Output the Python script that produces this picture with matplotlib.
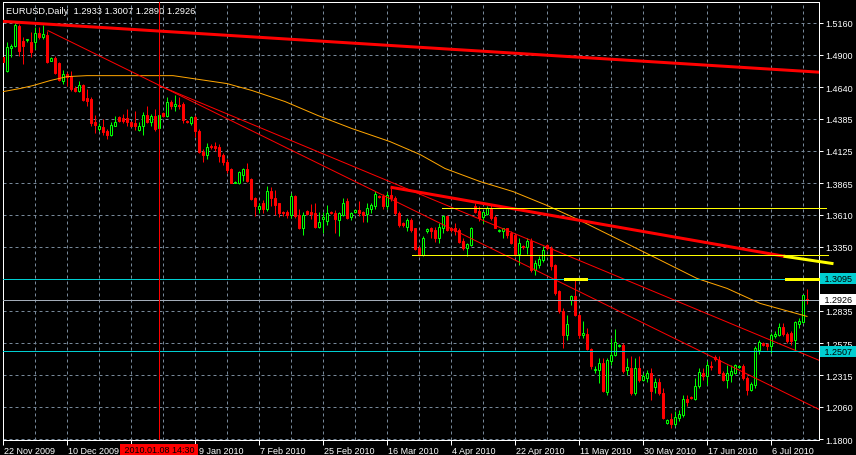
import matplotlib
matplotlib.use('Agg')
import matplotlib.pyplot as plt
import matplotlib.transforms as mtransforms
from matplotlib.patches import Rectangle

plt.rcParams['font.family'] = ['Liberation Sans', 'DejaVu Sans']

title = 'EURUSD,Daily  1.2933 1.3007 1.2890 1.2926'

# daily bars, oldest first (index = bar number on the time axis)
opens = [1.4886, 1.4773, 1.4958, 1.4974, 1.5135, 1.5014, 1.5020, 1.5006, 1.5006, 1.5079,
         1.5047, 1.5063, 1.4853, 1.4877, 1.4837, 1.4692, 1.4748, 1.4732, 1.4636, 1.4612,
         1.4660, 1.4555, 1.4547, 1.4354, 1.4305, 1.4321, 1.4289, 1.4257, 1.4329, 1.4402,
         1.4394, 1.4394, 1.4362, 1.4346, 1.4297, 1.4329, 1.4418, 1.4362, 1.4410, 1.4313,
         1.4434, 1.4410, 1.4523, 1.4491, 1.4499, 1.4507, 1.4370, 1.4346, 1.4402, 1.4289,
         1.4120, 1.4088, 1.4168, 1.4168, 1.4160, 1.4088, 1.4039, 1.3975, 1.3870, 1.3862,
         1.3934, 1.3975, 1.3902, 1.3741, 1.3660, 1.3701, 1.3660, 1.3805, 1.3741, 1.3701,
         1.3636, 1.3636, 1.3604, 1.3765, 1.3604, 1.3499, 1.3644, 1.3636, 1.3620, 1.3515,
         1.3572, 1.3556, 1.3636, 1.3628, 1.3564, 1.3604, 1.3717, 1.3588, 1.3636, 1.3652,
         1.3636, 1.3612, 1.3660, 1.3677, 1.3765, 1.3765, 1.3677, 1.3773, 1.3741, 1.3620,
         1.3540, 1.3515, 1.3564, 1.3499, 1.3338, 1.3282, 1.3475, 1.3499, 1.3483, 1.3419,
         1.3499, 1.3596, 1.3507, 1.3499, 1.3483, 1.3402, 1.3338, 1.3362, 1.3677, 1.3644,
         1.3588, 1.3612, 1.3668, 1.3588, 1.3475, 1.3475, 1.3499, 1.3459, 1.3443, 1.3290,
         1.3354, 1.3346, 1.3402, 1.3161, 1.3201, 1.3241, 1.3362, 1.3338, 1.3201, 1.2991,
         1.2830, 1.2637, 1.2919, 1.2951, 1.2798, 1.2637, 1.2645, 1.2524, 1.2355, 1.2355,
         1.2411, 1.2177, 1.2427, 1.2475, 1.2548, 1.2556, 1.2355, 1.2371, 1.2169, 1.2371,
         1.2274, 1.2290, 1.2331, 1.2218, 1.2258, 1.2169, 1.1928, 1.1960, 1.1920, 1.1968,
         1.1992, 1.2121, 1.2137, 1.2121, 1.2226, 1.2331, 1.2306, 1.2387, 1.2459, 1.2435,
         1.2331, 1.2274, 1.2314, 1.2331, 1.2379, 1.2387, 1.2290, 1.2193, 1.2234, 1.2516,
         1.2572, 1.2564, 1.2548, 1.2629, 1.2637, 1.2701, 1.2645, 1.2653, 1.2597, 1.2725,
         1.2742, 1.2933]
highs = [1.4894, 1.5006, 1.4990, 1.5160, 1.5152, 1.5047, 1.5031, 1.5087, 1.5127, 1.5127,
         1.5143, 1.5095, 1.4880, 1.4894, 1.4845, 1.4781, 1.4765, 1.4773, 1.4652, 1.4692,
         1.4668, 1.4628, 1.4563, 1.4418, 1.4346, 1.4386, 1.4305, 1.4362, 1.4410, 1.4410,
         1.4426, 1.4466, 1.4370, 1.4450, 1.4362, 1.4442, 1.4491, 1.4426, 1.4466, 1.4434,
         1.4442, 1.4563, 1.4539, 1.4579, 1.4563, 1.4523, 1.4378, 1.4410, 1.4418, 1.4305,
         1.4144, 1.4192, 1.4184, 1.4200, 1.4184, 1.4104, 1.4063, 1.3983, 1.3880, 1.3959,
         1.3991, 1.4031, 1.3910, 1.3757, 1.3701, 1.3725, 1.3838, 1.3830, 1.3813, 1.3705,
         1.3640, 1.3652, 1.3789, 1.3773, 1.3660, 1.3636, 1.3648, 1.3693, 1.3701, 1.3636,
         1.3636, 1.3685, 1.3644, 1.3652, 1.3636, 1.3741, 1.3741, 1.3636, 1.3660, 1.3717,
         1.3644, 1.3701, 1.3701, 1.3805, 1.3773, 1.3781, 1.3797, 1.3822, 1.3765, 1.3644,
         1.3548, 1.3580, 1.3580, 1.3507, 1.3354, 1.3435, 1.3507, 1.3515, 1.3515, 1.3540,
         1.3604, 1.3604, 1.3515, 1.3540, 1.3499, 1.3419, 1.3378, 1.3515, 1.3701, 1.3677,
         1.3644, 1.3677, 1.3685, 1.3604, 1.3491, 1.3507, 1.3507, 1.3475, 1.3451, 1.3419,
         1.3362, 1.3419, 1.3419, 1.3241, 1.3274, 1.3354, 1.3370, 1.3354, 1.3209, 1.2999,
         1.2855, 1.2798, 1.2959, 1.3080, 1.2814, 1.2750, 1.2693, 1.2532, 1.2387, 1.2451,
         1.2451, 1.2451, 1.2613, 1.2685, 1.2564, 1.2572, 1.2451, 1.2467, 1.2451, 1.2467,
         1.2331, 1.2355, 1.2371, 1.2290, 1.2290, 1.2210, 1.1960, 1.2008, 1.2024, 1.2032,
         1.2153, 1.2153, 1.2145, 1.2290, 1.2371, 1.2371, 1.2427, 1.2427, 1.2475, 1.2467,
         1.2347, 1.2395, 1.2395, 1.2403, 1.2395, 1.2403, 1.2306, 1.2258, 1.2548, 1.2597,
         1.2580, 1.2572, 1.2653, 1.2669, 1.2733, 1.2733, 1.2661, 1.2669, 1.2750, 1.2774,
         1.2963, 1.3007]
lows = [1.4829, 1.4765, 1.4886, 1.4966, 1.4894, 1.4829, 1.5006, 1.4886, 1.4950, 1.5031,
        1.5031, 1.4837, 1.4850, 1.4748, 1.4692, 1.4668, 1.4652, 1.4612, 1.4603, 1.4603,
        1.4531, 1.4491, 1.4329, 1.4273, 1.4289, 1.4257, 1.4217, 1.4249, 1.4325, 1.4362,
        1.4346, 1.4329, 1.4321, 1.4297, 1.4289, 1.4257, 1.4346, 1.4329, 1.4289, 1.4305,
        1.4402, 1.4402, 1.4466, 1.4450, 1.4466, 1.4346, 1.4346, 1.4337, 1.4241, 1.4104,
        1.4039, 1.4063, 1.4144, 1.4128, 1.4039, 1.4015, 1.3943, 1.3862, 1.3865, 1.3854,
        1.3886, 1.3878, 1.3725, 1.3596, 1.3620, 1.3620, 1.3644, 1.3677, 1.3604, 1.3588,
        1.3596, 1.3580, 1.3580, 1.3580, 1.3491, 1.3443, 1.3604, 1.3572, 1.3499, 1.3499,
        1.3459, 1.3531, 1.3612, 1.3459, 1.3435, 1.3596, 1.3572, 1.3564, 1.3628, 1.3596,
        1.3548, 1.3548, 1.3620, 1.3660, 1.3749, 1.3660, 1.3660, 1.3717, 1.3604, 1.3515,
        1.3515, 1.3475, 1.3467, 1.3322, 1.3274, 1.3274, 1.3459, 1.3419, 1.3394, 1.3386,
        1.3459, 1.3475, 1.3467, 1.3443, 1.3378, 1.3322, 1.3274, 1.3354, 1.3628, 1.3556,
        1.3540, 1.3604, 1.3564, 1.3499, 1.3467, 1.3419, 1.3419, 1.3370, 1.3274, 1.3201,
        1.3330, 1.3290, 1.3145, 1.3120, 1.3177, 1.3225, 1.3322, 1.3161, 1.2959, 1.2814,
        1.2532, 1.2597, 1.2879, 1.2790, 1.2613, 1.2613, 1.2516, 1.2363, 1.2331, 1.2250,
        1.2177, 1.2153, 1.2395, 1.2467, 1.2540, 1.2331, 1.2314, 1.2153, 1.2153, 1.2258,
        1.2266, 1.2258, 1.2113, 1.2169, 1.2153, 1.1960, 1.1920, 1.1887, 1.1904, 1.1944,
        1.1976, 1.2065, 1.2121, 1.2113, 1.2210, 1.2274, 1.2234, 1.2355, 1.2427, 1.2322,
        1.2266, 1.2210, 1.2258, 1.2322, 1.2371, 1.2274, 1.2153, 1.2185, 1.2210, 1.2484,
        1.2548, 1.2516, 1.2492, 1.2613, 1.2630, 1.2629, 1.2572, 1.2556, 1.2516, 1.2693,
        1.2733, 1.2890]
closes = [1.4845, 1.4966, 1.4974, 1.5143, 1.4934, 1.4974, 1.5026, 1.4926, 1.5079, 1.5047,
          1.5071, 1.4845, 1.4877, 1.4757, 1.4700, 1.4748, 1.4724, 1.4628, 1.4612, 1.4660,
          1.4539, 1.4531, 1.4346, 1.4337, 1.4329, 1.4281, 1.4257, 1.4337, 1.4362, 1.4370,
          1.4370, 1.4354, 1.4329, 1.4329, 1.4329, 1.4418, 1.4362, 1.4410, 1.4305, 1.4418,
          1.4410, 1.4523, 1.4491, 1.4507, 1.4491, 1.4378, 1.4354, 1.4402, 1.4289, 1.4120,
          1.4088, 1.4160, 1.4160, 1.4152, 1.4080, 1.4039, 1.3967, 1.3870, 1.3878, 1.3951,
          1.3975, 1.3886, 1.3733, 1.3677, 1.3677, 1.3660, 1.3805, 1.3741, 1.3685, 1.3620,
          1.3620, 1.3604, 1.3765, 1.3596, 1.3499, 1.3604, 1.3612, 1.3612, 1.3515, 1.3548,
          1.3588, 1.3628, 1.3628, 1.3572, 1.3620, 1.3701, 1.3580, 1.3628, 1.3652, 1.3628,
          1.3604, 1.3668, 1.3685, 1.3781, 1.3757, 1.3677, 1.3773, 1.3741, 1.3620, 1.3531,
          1.3531, 1.3564, 1.3483, 1.3330, 1.3282, 1.3419, 1.3491, 1.3475, 1.3419, 1.3515,
          1.3596, 1.3483, 1.3483, 1.3475, 1.3394, 1.3338, 1.3370, 1.3507, 1.3636, 1.3580,
          1.3636, 1.3668, 1.3580, 1.3507, 1.3483, 1.3499, 1.3443, 1.3386, 1.3290, 1.3386,
          1.3346, 1.3402, 1.3161, 1.3217, 1.3249, 1.3322, 1.3338, 1.3193, 1.2975, 1.2830,
          1.2637, 1.2725, 1.2951, 1.2798, 1.2637, 1.2653, 1.2524, 1.2387, 1.2363, 1.2411,
          1.2185, 1.2435, 1.2475, 1.2580, 1.2556, 1.2347, 1.2379, 1.2169, 1.2371, 1.2274,
          1.2306, 1.2331, 1.2185, 1.2258, 1.2169, 1.1968, 1.1952, 1.1920, 1.1976, 1.2000,
          1.2121, 1.2097, 1.2129, 1.2226, 1.2339, 1.2306, 1.2395, 1.2379, 1.2443, 1.2331,
          1.2274, 1.2331, 1.2347, 1.2395, 1.2387, 1.2290, 1.2193, 1.2242, 1.2532, 1.2580,
          1.2556, 1.2548, 1.2637, 1.2645, 1.2701, 1.2645, 1.2589, 1.2589, 1.2742, 1.2750,
          1.2959, 1.2926]

# date labels every 16 bars; two of them sit under the red time marker box
date_ticks = [0, 16, 32, 48, 64, 80, 96, 112, 128, 144, 160, 176, 192]
date_labels = ['22 Nov 2009', '10 Dec 2009', '', '9 Jan 2010', '7 Feb 2010',
               '25 Feb 2010', '16 Mar 2010', '4 Apr 2010', '22 Apr 2010', '11 May 2010',
               '30 May 2010', '17 Jun 2010', '6 Jul 2010']
price_ticks = [1.1800, 1.2060, 1.2315, 1.2575, 1.2835, 1.3095, 1.3350, 1.3610,
               1.3865, 1.4125, 1.4385, 1.4640, 1.4900, 1.5160]

# moving average (bar, price)
ma_bar = [0, 4.25, 7.5, 11.75, 16, 21, 32.5, 42.5, 49.25, 56, 62.25, 70.5, 78.75,
          87.25, 96.75, 104.25, 110.5, 119.25, 127.5, 136, 144.25, 163.5, 173.5, 181,
          189.25, 201]
ma_value = [1.4603, 1.4628, 1.4652, 1.4692, 1.4724, 1.4732, 1.4732, 1.4732, 1.4700,
            1.4668, 1.4612, 1.4523, 1.4410, 1.4305, 1.4200, 1.4096, 1.3983, 1.3878,
            1.3797, 1.3685, 1.3564, 1.3257, 1.3096, 1.3016, 1.2895, 1.2790]

# chart objects (bar, price)
long_trend = ([-1, 204], [1.5172, 1.4760])
channel_a = ([11.25, 204], [1.5095, 1.2040])
channel_b = ([39, 204], [1.4652, 1.2436])
mid_trend = ([97.25, 195.5], [1.3830, 1.3274])
mid_trend_ext = ([195.5, 207.25], [1.3274, 1.3217])
support_lo = ([102.25, 206.25], [1.3282, 1.3282])
support_hi = ([109.75, 205.75], [1.3668, 1.3668])
mark_a = ([140.5, 145.75], [1.3095, 1.3095])
mark_b = ([195.75, 205], [1.3095, 1.3095])
level_up = 1.3095
level_dn = 1.2507
bid = 1.2926
vline_bar = 39
vline_label = '2010.01.08 14:30'

px = 0.72
bull = '#00FF00'
bear = '#FF0000'
cyan = '#00CED1'
yellow = '#FFFF00'
orange = '#FFA500'
grid_c = '#778899'

fig = plt.figure(figsize=(8.56, 4.56), dpi=100, facecolor='black')
ax = fig.add_axes([2.5 / 856, 15.5 / 456, 816 / 856, 438 / 456])
ax.set_facecolor('black')
ax.set_xlim(-0.125, 203.875)
ax.set_ylim(1.1797, 1.5330)

# grid
ax.set_axisbelow(True)
ax.set_xticks(date_ticks)
ax.set_xticklabels(date_labels)
ax.set_xticks(list(range(0, 204, 8)), minor=True)
ax.set_yticks(price_ticks)
# the 1.3095 grid label is covered by the level box
ax.set_yticklabels(['' if v == level_up else f'{v:.4f}' for v in price_ticks])
ax.grid(which='both', axis='x', color=grid_c, linestyle=(0, (3, 3)), linewidth=px)
ax.grid(which='major', axis='y', color=grid_c, linestyle=(0, (3, 3)), linewidth=px)

for s in ax.spines.values():
    s.set_color('white')
    s.set_linewidth(px)
ax.yaxis.tick_right()
ax.tick_params(axis='x', which='major', colors='white', length=5 * px, width=px,
               pad=1.5 * px, labelsize=6.5)
ax.tick_params(axis='x', which='minor', length=0)
ax.tick_params(axis='y', colors='white', length=4 * px, width=px, pad=3 * px,
               labelsize=6.5)
shift = mtransforms.ScaledTranslation(1.5 / 100, 0, fig.dpi_scale_trans)
for i, lab in enumerate(ax.get_xticklabels()):
    lab.set_horizontalalignment('left')
    extra = 2.5 / 100 if date_ticks[i] == 48 else 0
    lab.set_transform(lab.get_transform() + shift
                      + mtransforms.ScaledTranslation(extra, 0, fig.dpi_scale_trans))

# candles
n = len(opens)
bars = list(range(n))
colors = [bull if closes[i] >= opens[i] else bear for i in bars]
ax.vlines(bars, lows, highs, colors=colors, linewidth=px, zorder=2)
for i in bars:
    up = closes[i] >= opens[i]
    ax.add_patch(Rectangle((i - 0.25, min(opens[i], closes[i])), 0.5,
                           abs(closes[i] - opens[i]),
                           facecolor='black' if up else bear,
                           edgecolor=colors[i], linewidth=px, zorder=3))

# indicator and objects
flat = dict(linewidth=px, antialiased=False)
ax.plot(ma_bar, ma_value, color=orange, linewidth=px, zorder=4)
ax.plot(*long_trend, color=bear, linewidth=3 * px, zorder=5)
ax.plot(*channel_a, color=bear, linewidth=px, zorder=5)
ax.plot(*channel_b, color=bear, linewidth=px, zorder=5)
ax.plot(*mid_trend, color=bear, linewidth=3 * px, zorder=5)
ax.plot(*mid_trend_ext, color=yellow, linewidth=3 * px, zorder=6, clip_on=False)
ax.plot(*support_lo, color=yellow, zorder=5, clip_on=False, **flat)
ax.plot(*support_hi, color=yellow, zorder=5, clip_on=False, **flat)
ax.axhline(level_up, color=cyan, zorder=5, **flat)
ax.axhline(level_dn, color=cyan, zorder=5, **flat)
ax.axhline(bid, color='#A3ACB8', zorder=5, **flat)
ax.plot(*mark_a, color=yellow, linewidth=3 * px, zorder=6)
ax.plot(*mark_b, color=yellow, linewidth=3 * px, zorder=6, clip_on=False)
ax.axvline(vline_bar, color=bear, zorder=5, **flat)

# labels
ax.annotate(title, xy=(0, 1), xycoords='axes fraction', xytext=(4, -4),
            textcoords='offset pixels', ha='left', va='top', color='white',
            fontsize=6.7)
ytr = ax.get_yaxis_transform()
for v, fc in [(level_up, cyan), (bid, 'white'), (level_dn, cyan)]:
    ax.annotate(f' {v:.4f} ', xy=(1, v), xycoords=ytr, xytext=(19.5, 0),
                textcoords='offset pixels', ha='center', va='center', color='black',
                fontsize=6.5, zorder=10,
                bbox=dict(boxstyle='square,pad=0.15', fc=fc, ec='none'))
ax.annotate(f' {vline_label} ', xy=(vline_bar, 0), xycoords=ax.get_xaxis_transform(),
            xytext=(0, -10.5), textcoords='offset pixels', ha='center', va='center',
            color='black', fontsize=6.5, zorder=10,
            bbox=dict(boxstyle='square,pad=0.15', fc=bear, ec='none'))

fig.savefig('out.png', dpi=100, facecolor='black')
